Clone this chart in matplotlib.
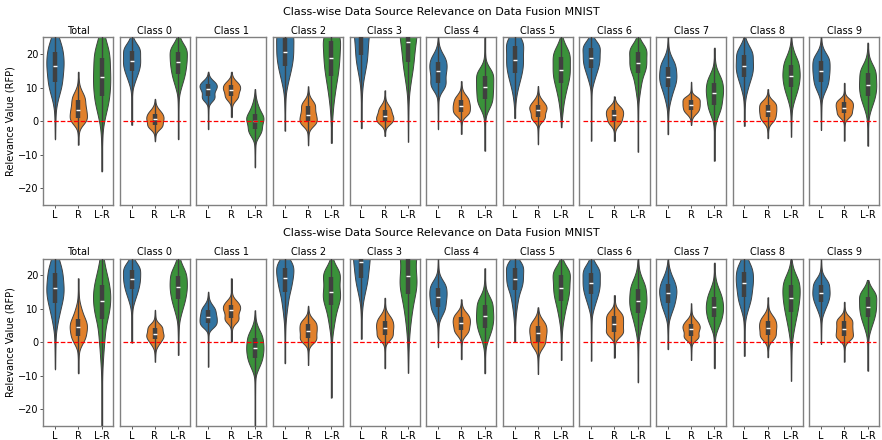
import numpy as np
import matplotlib
matplotlib.use("Agg")
import matplotlib.pyplot as plt

panels = ["Total"] + ["Class %d" % i for i in range(10)]
sources = ["L", "R", "L-R"]
colors = ["#3274a1", "#e1812c", "#3a923a"]

# per violin: [min, p3, q1, median, q3, p97, max]
# matching normal scores for those quantiles (min/max pinned at +-3)
zlev = np.array([-3.0, -1.88, -0.674, 0.0, 0.674, 1.88, 3.0])

top_L = [[-5.4, 5, 11.8, 16.5, 20.8, 27, 35], [-1.1, 10, 15.1, 18, 21, 24, 27],
         [-2.4, 5.4, 7.4, 9.6, 11, 12.8, 14.8], [-2.8, 9, 16.4, 20.7, 24.9, 29, 33],
         [-2.1, 11.3, 19.8, 26, 31, 35, 38], [-2.4, 8.4, 11.5, 15, 17.8, 21.3, 25],
         [0.9, 7.4, 14.3, 18.3, 22.5, 26, 28], [-5.8, 10.3, 15.8, 18.8, 21.8, 24.5, 27],
         [-3.9, 4.4, 10.3, 13.3, 16.3, 20.3, 25], [-1.4, 7.4, 13.3, 16.5, 19.8, 23.3, 25],
         [-2.6, 7.4, 11.8, 15, 18, 21.3, 25]]
top_R = [[-7, -1.5, 0.9, 3.4, 6.4, 10, 14.8], [-6, -3, -1.1, 0.6, 2.1, 4.4, 6.7],
         [1.2, 5.4, 7.6, 9.4, 10.8, 12.8, 14.8], [-7.2, -2, 0, 2, 4.5, 7, 10.4],
         [-4.4, -1.6, 0.2, 1.6, 3.4, 5.9, 9.2], [-3.8, 0.9, 2.9, 4.6, 6.4, 8.9, 12],
         [-6.9, -0.8, 1.4, 3.4, 4.9, 7.4, 10.5], [-5.9, -2.1, 0.2, 1.9, 3.4, 5.4, 7.4],
         [-1.1, 1.4, 3.4, 4.9, 6.4, 7.9, 11.8], [-5.1, -1.1, 1.2, 3.1, 4.9, 6.9, 9.6],
         [-5.8, 0.4, 2.4, 4.1, 5.6, 7.4, 11.5]]
top_LR = [[-15, -1, 7.4, 13.1, 19, 26, 32], [-5.4, 8.4, 14.1, 17.6, 20.8, 24, 28],
          [-13.8, -5.6, -2.4, 0.2, 2.2, 6.4, 9.6], [-6.5, 3, 13.4, 18.9, 23.9, 28, 32],
          [-6.1, 8.4, 17.8, 23.6, 28, 32, 35], [-8.8, 2.4, 6.6, 10.1, 13.5, 16.8, 25],
          [-1.8, 3.4, 11.3, 15.3, 19.3, 23.3, 26], [-9.1, 6.4, 14.3, 17.5, 20.8, 23.8, 26],
          [-11.8, -0.1, 4.9, 8.4, 11.5, 15.8, 22], [-4.6, 4.4, 10.1, 13.5, 16.8, 21.3, 25],
          [-7.3, 1.9, 7.4, 10.8, 14.3, 18.3, 23.5]]

bot_L = [[-8.1, 3.7, 11.8, 16.1, 20.6, 27, 32], [-0.1, 10.6, 15.8, 18.8, 21.6, 24.5, 27],
         [-7.3, 3.7, 5.7, 7.5, 9.5, 12.1, 15.1], [-6.3, 6.2, 15.1, 19.1, 22.3, 25.5, 28],
         [1.0, 11.6, 19.1, 23.9, 28, 32, 35], [-1.5, 6.7, 10.6, 13.6, 16.3, 19.6, 24.8],
         [0.2, 7.7, 15.6, 18.9, 22.1, 25, 27], [-5.5, 8.7, 14.4, 17.6, 20.8, 24, 27],
         [-2.1, 6.7, 11.6, 14.6, 17.3, 21.6, 24.8], [-4.1, 7.7, 13.6, 17.6, 21.1, 25.5, 30],
         [-0.5, 7.7, 12.1, 14.6, 17.1, 20.1, 24.8]]
bot_R = [[-9.3, -1.8, 1.9, 4.5, 7, 12.1, 19.1], [-5.8, -1.8, 0.9, 2.4, 4.2, 6.2, 9.7],
         [0.2, 5.2, 7.2, 9.5, 11.1, 13.4, 19.1], [-6.8, -0.8, 1.2, 3.4, 5.4, 7.7, 10.9],
         [-7.8, -0.1, 2.2, 4.4, 6.4, 9.2, 13.3], [-5.1, 1.2, 3.7, 5.7, 7.5, 9.9, 12.8],
         [-9.5, -2.8, 0.2, 2.7, 4.9, 7.7, 10.4], [-4.6, 1.2, 3.2, 5.5, 7.7, 10.1, 14.1],
         [-5.3, 0.2, 1.9, 3.9, 5.4, 7.7, 11.6], [-4.5, -0.1, 2.2, 4.4, 6.4, 9.2, 13.4],
         [-5.8, 0.2, 1.9, 4.0, 6.2, 8.2, 12.1]]
bot_LR = [[-30, -7.3, 6.9, 12.3, 17.1, 25, 30], [-3.8, 6.7, 12.8, 16.4, 19.8, 24, 27],
          [-27, -9.3, -4.8, -1.8, 1.2, 5.2, 9.5], [-16.5, 2.2, 11.1, 14.9, 19.6, 23, 27],
          [-9.1, 2.7, 14.4, 19.8, 27, 31, 33], [-9.3, -0.8, 4.4, 7.7, 11.1, 15.1, 22.1],
          [-5.3, 4.7, 12.4, 16.3, 20.1, 23.1, 25.5], [-12, 1.7, 8.7, 12.3, 15.9, 20.6, 26],
          [-7.8, 2.7, 7.4, 10.4, 13.4, 18.1, 23.8], [-11.5, 0.7, 8.9, 13.3, 17.1, 21.6, 27],
          [-8.5, 2.2, 7.5, 10.6, 13.6, 16.5, 18.6]]

rows = [(top_L, top_R, top_LR), (bot_L, bot_R, bot_LR)]
suptitle = "Class-wise Data Source Relevance on Data Fusion MNIST"


def violin_stats(q, npts=400):
    # density implied by the quantile summary, smoothed a bit relative to the IQR
    q = np.asarray(q, dtype=float)
    smooth = 0.22 * (q[4] - q[2])
    coords = np.linspace(q[0], q[-1], npts)
    z = np.interp(coords, q, zlev)
    seg = np.clip(np.searchsorted(q, coords, side="right") - 1, 0, len(q) - 2)
    slope = np.diff(q) / np.diff(zlev)
    dens = np.exp(-0.5 * z ** 2) / slope[seg]
    dx = coords[1] - coords[0]
    half = int(3 * smooth / dx) + 1
    k = np.arange(-half, half + 1) * dx
    kern = np.exp(-0.5 * (k / smooth) ** 2)
    dens = np.convolve(dens, kern / kern.sum(), mode="same")
    return {"coords": coords, "vals": dens, "mean": q[3], "median": q[3],
            "min": q[0], "max": q[-1]}


fig = plt.figure(figsize=(8.82, 4.4), dpi=100)

ax_left, ax_w, step = 43.3 / 882, 70 / 882, 76.6 / 882
row_bottoms = [1 - 205 / 440, 1 - 426 / 440]
ax_h = 167.5 / 440
title_y = [1 - 12 / 440, 1 - 233 / 440]

for r, series in enumerate(rows):
    fig.text(0.5, title_y[r], suptitle, ha="center", va="center", fontsize=8)
    for i, name in enumerate(panels):
        ax = fig.add_axes([ax_left + i * step, row_bottoms[r], ax_w, ax_h])
        for j, src in enumerate(series):
            q = src[i]
            parts = ax.violin([violin_stats(q)], positions=[j], widths=0.74,
                              showextrema=False)
            for body in parts["bodies"]:
                body.set_facecolor(colors[j])
                body.set_edgecolor("#404040")
                body.set_linewidth(0.7)
                body.set_alpha(1)
            # inner box: thin whisker, thick iqr bar, white median
            ax.vlines(j, q[0], q[6], color="#404040", lw=1.0, zorder=3)
            ax.vlines(j, q[2], q[4], color="#404040", lw=3.2, zorder=4)
            ax.plot(j, q[3], "_", color="white", ms=2.6, mew=1.0, zorder=5)
        ax.hlines(0, -0.35, 2.35, colors="red", linestyles="--", lw=0.9, zorder=6)
        ax.set_xlim(-0.5, 2.5)
        ax.set_ylim(-25, 25)
        ax.set_xticks([0, 1, 2])
        ax.set_xticklabels(sources, fontsize=7)
        ax.set_title(name, fontsize=7, pad=2.7)
        for s in ax.spines.values():
            s.set_color("#808080")
            s.set_linewidth(1.0)
        ax.tick_params(length=2.5, width=0.7, color="#555555", pad=1)
        if i == 0:
            ax.set_yticks([-20, -10, 0, 10, 20])
            ax.tick_params(axis="y", labelsize=7)
            ax.set_ylabel("Relevance Value (RFP)", fontsize=7, labelpad=2)
        else:
            ax.set_yticks([])

fig.savefig("out.png", dpi=100)
